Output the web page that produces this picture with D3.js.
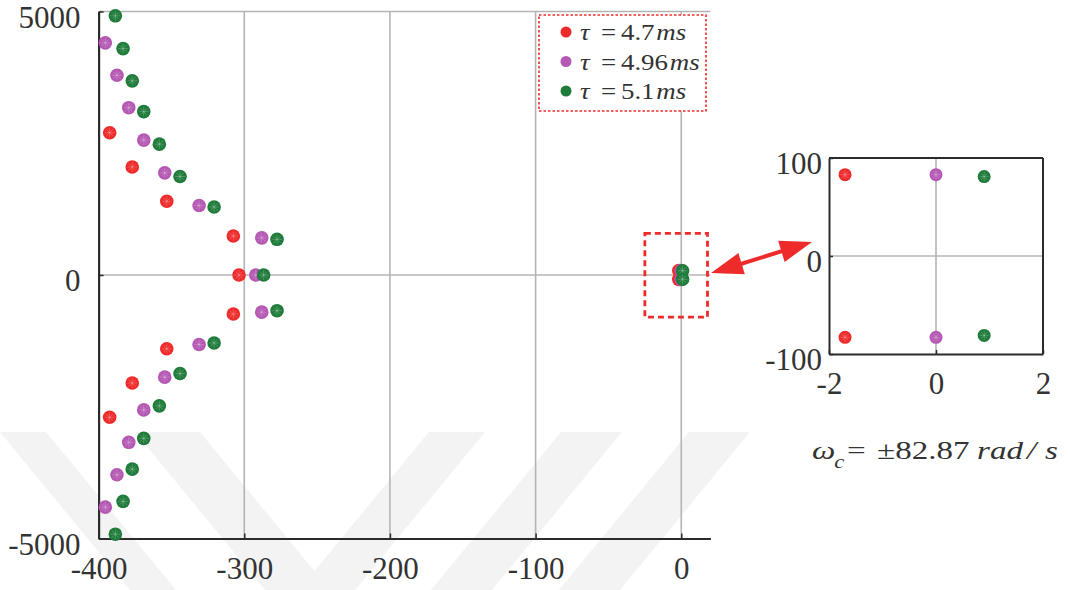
<!DOCTYPE html>
<html>
<head>
<meta charset="utf-8">
<script src="https://cdn.jsdelivr.net/npm/d3@7"></script>
<style>
  html, body { margin: 0; padding: 0; background: #fff; }
  svg { display: block; }
  text { font-family: "Liberation Serif", "Times New Roman", serif; fill: #333; }
</style>
</head>
<body>
<svg id="chart" width="1070" height="590"></svg>
<script>
// ---- Data ----
const seriesNames = ["τ = 4.7 ms", "τ = 4.96 ms", "τ = 5.1 ms"];
const tauValues = ["4.7", "4.96", "5.1"];
const seriesColors = ["#ef2a2a", "#b458b3", "#1e7b3a"];

// complex-conjugate pole pairs: real parts and (positive) imaginary parts
const redRe = [-392.4, -376.9, -353.2, -307.5];
const redIm = [2700, 2050, 1400, 740];
const purpleRe = [-395.4, -387.4, -379.3, -369.0, -354.6, -331.0, -288.0];
const purpleIm = [4405, 3790, 3175, 2560, 1938, 1318, 705];
const greenRe = [-388.5, -383.2, -376.9, -369.0, -358.3, -344.1, -320.7, -277.5];
const greenIm = [4918, 4295, 3684, 3100, 2483, 1869, 1290, 677];
// real poles
const realPoles = [-303.6, -292.1, -286.7];
// dominant (critical) pole pairs near the imaginary axis
const domRe = [-1.7, 0.0, 0.9];
const domIm = [83, 83, 81];

const mainXTicks = [-400, -300, -200, -100, 0];
const mainYTicks = [-5000, 0, 5000];
const insetXTicks = [-2, 0, 2];
const insetYTicks = [-100, 0, 100];

const pairRe = [redRe, purpleRe, greenRe];
const pairIm = [redIm, purpleIm, greenIm];

const series = seriesNames.map((name, i) => {
  const pts = [];
  pairRe[i].forEach((re, k) => {
    pts.push({ re, im: pairIm[i][k] });
    pts.push({ re, im: -pairIm[i][k] });
  });
  pts.push({ re: realPoles[i], im: 0 });
  pts.push({ re: domRe[i], im: domIm[i] });
  pts.push({ re: domRe[i], im: -domIm[i] });
  return { name, color: seriesColors[i], pts, tau: tauValues[i] };
});

const fmt = d => String(d);
const svg = d3.select("#chart");

// ---- faint background watermark bands ----
const wm = svg.append("g").attr("fill", "#f3f3f3");
const wmTop = 432, wmBot = 590, wmShift = 130;
[[0, 46], [135, 200]].forEach(([a, b]) => {
  wm.append("polygon").attr("points",
    `${a},${wmTop} ${b},${wmTop} ${b + wmShift},${wmBot} ${a + wmShift},${wmBot}`);
});
[[429, 485], [561, 622], [689, 750]].forEach(([a, b]) => {
  wm.append("polygon").attr("points",
    `${a},${wmTop} ${b},${wmTop} ${b - wmShift},${wmBot} ${a - wmShift},${wmBot}`);
});

// ---- Main plot ----
const x = d3.scaleLinear().domain([-400, 20]).range([98.6, 710.4]);
const y = d3.scaleLinear().domain([-5000, 5000]).range([538.5, 11.5]);

const gridColor = "#b4b4b4";
const axisColor = "#2b2b2b";
const main = svg.append("g");

// grid
main.append("g").selectAll("line").data(mainXTicks.filter(t => t !== -400)).join("line")
  .attr("x1", d => x(d)).attr("x2", d => x(d))
  .attr("y1", y(-5000)).attr("y2", y(5000))
  .attr("stroke", gridColor).attr("stroke-width", 1.6);
main.append("g").selectAll("line").data(mainYTicks.filter(t => t !== -5000)).join("line")
  .attr("x1", x(-400)).attr("x2", x(20))
  .attr("y1", d => y(d)).attr("y2", d => y(d))
  .attr("stroke", gridColor).attr("stroke-width", 1.6);

// axes
const xAxis = d3.axisBottom(x).tickValues(mainXTicks).tickSizeInner(-5).tickSizeOuter(0).tickPadding(0).tickFormat(fmt);
const gx = main.append("g").attr("transform", `translate(0,${y(-5000)})`).call(xAxis);
const yAxis = d3.axisLeft(y).tickValues(mainYTicks).tickSizeInner(-5).tickSizeOuter(0).tickPadding(0).tickFormat(fmt);
const gy = main.append("g").attr("transform", `translate(${x(-400)},0)`).call(yAxis);
[gx, gy].forEach(g => {
  g.select(".domain").attr("stroke", axisColor).attr("stroke-width", 2.2);
  g.selectAll(".tick line").attr("stroke", axisColor).attr("stroke-width", 1.5);
  g.selectAll(".tick text").attr("font-size", 31).attr("fill", "#3a3a3a")
    .style("font-family", "'Liberation Serif', serif");
});
gx.selectAll(".tick text").attr("dy", null).attr("y", 0).attr("dominant-baseline", "central")
  .attr("transform", "translate(0,30)");
gy.selectAll(".tick text").attr("dy", null).attr("x", -18).attr("dominant-baseline", "central")
  .attr("transform", "translate(0,5)");

// marker drawing helper
function drawMarkers(g, pts, sx, sy, color, r) {
  const m = g.selectAll("g.mk").data(pts).join("g").attr("class", "mk")
    .attr("transform", d => `translate(${sx(d.re)},${sy(d.im)})`);
  m.append("circle").attr("r", r).attr("fill", color);
  const s = r * 0.72;
  const segs = [[-s, 0, s, 0], [0, -s, 0, s], [-s * 0.7, -s * 0.7, s * 0.7, s * 0.7], [-s * 0.7, s * 0.7, s * 0.7, -s * 0.7]];
  segs.forEach(([a, b, c, e]) => {
    m.append("line").attr("x1", a).attr("y1", b).attr("x2", c).attr("y2", e)
      .attr("stroke", "rgba(255,255,255,0.28)").attr("stroke-width", 0.8);
  });
}

series.forEach(s => {
  drawMarkers(main.append("g"), s.pts, x, y, s.color, 6.8);
});

// dashed zoom box
main.append("rect")
  .attr("x", x(-25)).attr("y", y(790))
  .attr("width", x(18) - x(-25)).attr("height", y(-800) - y(790))
  .attr("fill", "none").attr("stroke", "#ee2a2a").attr("stroke-width", 2.8)
  .attr("stroke-dasharray", "6,4");

// legend
const leg = svg.append("g").attr("transform", "translate(539,15)");
leg.append("rect").attr("width", 167).attr("height", 96).attr("fill", "#fff")
  .attr("stroke", "#ee2a2a").attr("stroke-width", 1.6).attr("stroke-dasharray", "2.5,2");
series.forEach((s, i) => {
  const cy = 17 + i * 29.5;
  leg.append("circle").attr("cx", 27).attr("cy", cy).attr("r", 5.5).attr("fill", s.color);
  const t = leg.append("text")
    .attr("transform", `translate(41,${cy}) scale(1.17,1)`)
    .attr("dominant-baseline", "central")
    .attr("font-size", 23).attr("fill", "#222");
  t.append("tspan").attr("x", 0).attr("font-style", "italic").text("τ");
  t.append("tspan").attr("x", 18).text("=");
  t.append("tspan").attr("x", 35).text(s.tau);
  t.append("tspan").attr("dx", 1.5).attr("font-style", "italic").text("ms");
});

// ---- Inset ----
const xi = d3.scaleLinear().domain([-2, 2]).range([829, 1043]);
const yi = d3.scaleLinear().domain([-100, 100]).range([354, 158]);
const inset = svg.append("g");
inset.append("line").attr("x1", xi(0)).attr("x2", xi(0)).attr("y1", yi(-100)).attr("y2", yi(100))
  .attr("stroke", gridColor).attr("stroke-width", 1.6);
inset.append("line").attr("x1", xi(-2)).attr("x2", xi(2)).attr("y1", yi(0)).attr("y2", yi(0))
  .attr("stroke", gridColor).attr("stroke-width", 1.6);

const ixAxis = d3.axisBottom(xi).tickValues(insetXTicks).tickSizeInner(-4).tickSizeOuter(0).tickPadding(0).tickFormat(fmt);
const iyAxis = d3.axisLeft(yi).tickValues(insetYTicks).tickSizeInner(-4).tickSizeOuter(0).tickPadding(0).tickFormat(fmt);
const igx = inset.append("g").attr("transform", `translate(0,${yi(-100)})`).call(ixAxis);
const igy = inset.append("g").attr("transform", `translate(${xi(-2)},0)`).call(iyAxis);
[igx, igy].forEach(g => {
  g.select(".domain").attr("stroke", axisColor).attr("stroke-width", 2);
  g.selectAll(".tick line").attr("stroke", axisColor).attr("stroke-width", 1.5);
  g.selectAll(".tick text").attr("font-size", 31).attr("fill", "#3a3a3a")
    .style("font-family", "'Liberation Serif', serif");
});
igx.selectAll(".tick text").attr("dy", null).attr("y", 0).attr("dominant-baseline", "central")
  .attr("transform", "translate(0,29)");
igy.selectAll(".tick text").attr("dy", null).attr("x", -7).attr("dominant-baseline", "central")
  .attr("transform", "translate(0,5)");
// top and right box lines
inset.append("line").attr("x1", xi(-2)).attr("x2", xi(2)).attr("y1", yi(100)).attr("y2", yi(100))
  .attr("stroke", axisColor).attr("stroke-width", 2);
inset.append("line").attr("x1", xi(2)).attr("x2", xi(2)).attr("y1", yi(-100)).attr("y2", yi(100))
  .attr("stroke", axisColor).attr("stroke-width", 2);

series.forEach(s => {
  const pts = s.pts.filter(p => p.re >= -2 && p.re <= 2 && Math.abs(p.im) <= 100);
  drawMarkers(inset.append("g"), pts, xi, yi, s.color, 6.5);
});

// ---- Double-headed arrow ----
function arrowHead(g, tipX, tipY, fromX, fromY, len, half) {
  const dx = tipX - fromX, dy = tipY - fromY;
  const L = Math.hypot(dx, dy), ux = dx / L, uy = dy / L;
  const bx = tipX - ux * len, by = tipY - uy * len;
  const px = -uy, py = ux;
  g.append("polygon").attr("points",
    `${tipX},${tipY} ${bx + px * half},${by + py * half} ${bx - px * half},${by - py * half}`)
    .attr("fill", "#ee2a2a");
}
const ar = svg.append("g");
const a1 = [711, 273], a2 = [812, 242];
ar.append("line").attr("x1", a1[0] + 20).attr("y1", a1[1] - 6).attr("x2", a2[0] - 20).attr("y2", a2[1] + 6)
  .attr("stroke", "#ee2a2a").attr("stroke-width", 4);
arrowHead(ar, a1[0], a1[1], a2[0], a2[1], 32, 11);
arrowHead(ar, a2[0], a2[1], a1[0], a1[1], 32, 11);

// ---- ω_c annotation ----
const wt = svg.append("text")
  .attr("transform", "translate(812,459) scale(1.27,1)")
  .attr("font-size", 26).attr("fill", "#222");
wt.append("tspan").attr("x", 0).attr("font-style", "italic").text("ω");
wt.append("tspan").attr("x", 17.5).attr("dy", 9).attr("font-style", "italic").attr("font-size", 18).text("c");
wt.append("tspan").attr("x", 27.5).attr("dy", -9).text("=");
wt.append("tspan").attr("x", 51.2).text("±82.87");
wt.append("tspan").attr("x", 130).attr("font-style", "italic").text("rad");
wt.append("tspan").attr("x", 169.3).attr("font-style", "italic").text("/");
wt.append("tspan").attr("x", 183.5).attr("font-style", "italic").text("s");
</script>
</body>
</html>
